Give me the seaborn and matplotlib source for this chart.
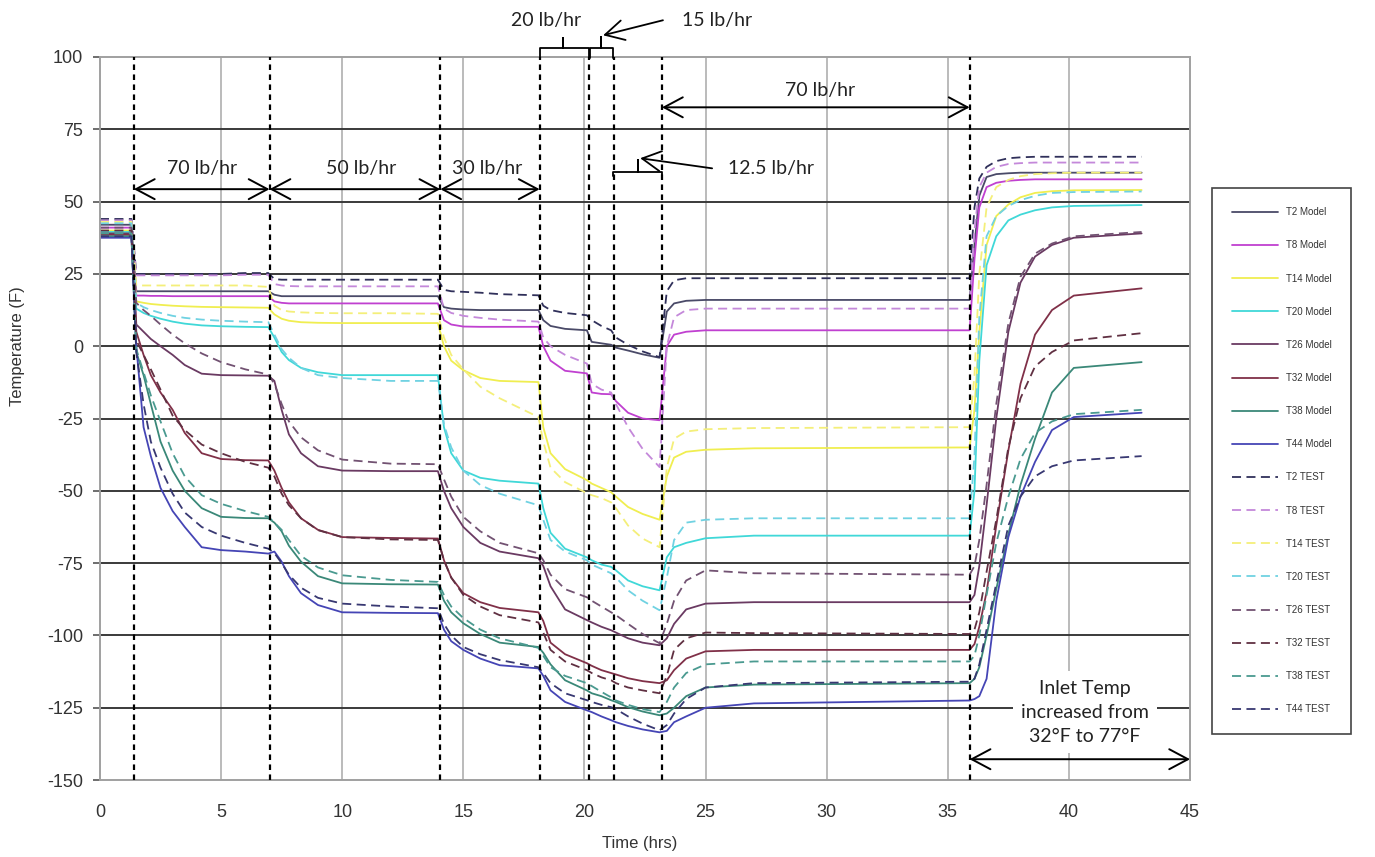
import matplotlib

matplotlib.use("Agg")
import matplotlib.pyplot as plt
import seaborn as sns

# time axis shared by every sensor trace (hours)
time_hrs = [
    0, 1.3, 1.5, 1.8, 2.1, 2.5, 3.0, 3.5, 4.2, 5.0, 6.0, 6.95,
    7.2, 7.5, 7.8, 8.3, 9.0, 10.0, 12.0, 13.95,
    14.2, 14.5, 15.0, 15.7, 16.5, 18.1,
    18.3, 18.6, 19.2, 20.1,
    20.3, 20.7, 21.1,
    21.3, 21.8, 22.4, 23.1,
    23.4, 23.7, 24.2, 25.0, 27.0, 35.9,
    36.1, 36.3, 36.6, 37.0, 37.5, 38.0, 38.6, 39.3, 40.2, 43.0,
]

# model traces (F)
t2_model = [
    42, 42, 19, 19, 19, 19, 19, 19, 19, 19, 19, 19,
    17.8, 17.3, 17.3, 17.3, 17.3, 17.3, 17.3, 17.3,
    13.5, 13, 12.7, 12.5, 12.5, 12.5,
    9, 7, 6, 5.5,
    1.5, 1, 0.5,
    -0.5, -1.5, -2.8, -4,
    12, 14.8, 15.7, 16, 16, 16,
    35, 52, 58.5, 59.5, 59.8, 60, 60, 60, 60, 60,
]
t8_model = [
    41, 41, 17.5, 17.5, 17.4, 17.4, 17.3, 17.3, 17.3, 17.3, 17.3, 17.3,
    15.5, 15, 14.8, 14.8, 14.8, 14.8, 14.8, 14.8,
    9, 7.5, 6.8, 6.7, 6.7, 6.7,
    0, -5, -8.5, -9.4,
    -16, -16.5, -16.6,
    -19, -23, -25, -25.6,
    0, 4, 5, 5.5, 5.5, 5.5,
    30, 48, 55, 56.5, 57.2, 57.5, 57.7, 57.7, 57.7, 57.7,
]
t14_model = [
    40, 40, 15.5, 15, 14.6, 14.3, 14, 13.8, 13.6, 13.5, 13.4, 13.3,
    11, 9.5, 8.8, 8.3, 8.1, 8, 8, 8,
    0, -5, -8.3, -11, -12, -12.4,
    -28, -37, -42.5, -46.3,
    -47.5, -49, -50.5,
    -52, -55.6, -58, -60,
    -45, -38.5, -36.5, -35.8, -35.3, -35,
    -22, 5, 35, 45, 49, 51.5, 53, 53.6, 53.9, 54,
]
t20_model = [
    39.5, 39.5, 13, 11.5, 10.5, 9.5, 8.5, 7.8, 7.2, 6.9, 6.7, 6.6,
    3, -2, -4.8, -7.5, -9, -10, -10, -10,
    -28, -37, -43, -45.5, -46.5, -47.5,
    -56, -64.5, -70, -73,
    -74, -75.5, -76.3,
    -77.5, -81, -83, -84.4,
    -73, -69.5, -68, -66.4, -65.5, -65.5,
    -50, -5, 28, 38, 43.5, 45.5, 47, 48, 48.5, 48.8,
]
t26_model = [
    39, 39, 7.5, 5, 2.5, 0, -3, -6.5, -9.5, -10, -10.1, -10.2,
    -12, -22, -30.5, -37, -41.5, -43, -43.2, -43.2,
    -50, -56, -62.5, -68, -71, -73.3,
    -76, -83, -91, -94.7,
    -95.5, -97, -98.2,
    -99, -101, -102.5, -103.4,
    -101, -96, -91, -89, -88.5, -88.5,
    -86, -76, -55, -25, 5, 22, 31, 35, 37.5, 39,
]
t32_model = [
    38.5, 38.5, 5, -3, -10, -16, -22, -30, -37, -39, -39.4, -39.5,
    -43, -49, -54, -59.5, -63.5, -66, -66.3, -66.5,
    -74, -80, -85.4, -88.5, -90.5, -92,
    -95, -102.5, -106.5, -109.6,
    -110.5, -112, -113,
    -113.5, -114.8, -115.8, -116.5,
    -115.5, -112, -108, -105.5, -105, -105,
    -103, -97, -85, -62, -36, -13, 4, 12.5, 17.5, 20,
]
t38_model = [
    38, 38, -2, -10, -20, -33, -43, -50, -56, -59, -59.4, -59.5,
    -61, -64, -69, -74.5, -79.5, -82, -82.3, -82.4,
    -88, -92, -95.8, -99.5, -102.5, -104,
    -106, -110, -115.5, -119,
    -120, -121, -122.4,
    -123, -124.8, -126.3, -127.6,
    -127, -125, -121, -118, -117, -116.5,
    -115, -111, -100, -84, -65, -48, -32, -16, -7.5, -5.5,
]
t44_model = [
    37.5, 37.5, 0, -28, -38, -49, -57, -62.5, -69.5, -70.5, -71, -71.7,
    -71, -74.5, -79.5, -85.4, -89.5, -92, -92.2, -92.3,
    -98, -102, -105, -108, -110.3, -111.4,
    -114, -119, -123, -125.9,
    -126.5, -128, -129.3,
    -130, -131.3, -132.5, -133.5,
    -133, -130, -128, -125, -123.5, -122.5,
    -122, -121, -115, -88, -66, -52, -40, -29, -24.5, -23,
]

# test traces (F)
t2_test = [
    44, 44, 25, 25, 25, 25, 25, 25, 25, 25, 25.3, 25.3,
    23.2, 23, 23, 23, 23, 23, 23, 23,
    19.5, 19, 18.8, 18.5, 18, 17.6,
    14, 12.5, 11.5, 10.7,
    9, 7, 5.5,
    3, 0.5, -1.8, -3.8,
    19, 22.8, 23.5, 23.5, 23.5, 23.5,
    48, 58, 62, 64, 65, 65.3, 65.5, 65.5, 65.5, 65.5,
]
t8_test = [
    43.5, 43.5, 24.5, 24.5, 24.5, 24.5, 24.5, 24.5, 24.5, 24.5, 24.7, 24.7,
    21.5, 21, 20.8, 20.7, 20.7, 20.7, 20.7, 20.7,
    13, 11.5, 10.5, 9.8, 9.2, 8.5,
    3, 0, -3, -6,
    -13, -15, -16,
    -20, -28, -35.5, -41.8,
    0, 10, 12.5, 13, 13, 13,
    40, 55, 60, 62, 63, 63.3, 63.5, 63.5, 63.5, 63.5,
]
t14_test = [
    43, 43, 21, 21, 21, 21, 21, 21, 21, 21, 21, 20.5,
    14, 12.5, 12, 11.7, 11.5, 11.4, 11.4, 11.2,
    3, -3, -8, -14, -18, -24.5,
    -33, -42, -47, -50.8,
    -51.5, -52.5, -54,
    -56, -62, -66.5, -69.5,
    -42, -32, -29.5, -28.7, -28.3, -28,
    -10, 25, 48, 55, 57.5, 58.8, 59.5, 59.8, 60, 60,
]
t20_test = [
    42.5, 42.5, 15, 13.5, 12.5, 11.5, 10.5, 9.8, 9.2, 8.8, 8.5, 8.3,
    4, -1, -4, -7.5, -10, -11, -12, -12,
    -27, -35, -43, -48, -51, -55,
    -60, -67, -71, -74,
    -75.5, -77, -78.5,
    -80, -84.4, -88, -91.3,
    -80, -67, -61, -60, -59.5, -59.5,
    -38, 10, 38, 45, 48.5, 50.5, 52, 53, 53.3, 53.5,
]
t26_test = [
    41, 41, 15, 12.5, 10.5, 7.5, 4, 1, -2.5, -5.5, -8, -9.8,
    -13, -20, -26, -31.5, -36, -39.2, -40.6, -40.8,
    -46, -52, -59, -64, -68, -71.6,
    -74, -79, -84, -86.8,
    -88, -90, -92,
    -93, -96, -99.5, -102.7,
    -96, -88, -81, -77.5, -78.5, -79,
    -76, -67, -48, -20, 8, 24, 32, 35.5, 38, 39.5,
]
t32_test = [
    40, 40, 2, -3, -8, -15, -24, -29, -34, -37, -40, -42,
    -45, -51, -55, -59.5, -63.6, -66, -66.8, -67,
    -74, -80, -86, -90, -93, -95.5,
    -99, -105, -109, -112,
    -113, -114.5, -115.5,
    -116.5, -118, -119, -120,
    -114, -105, -101, -99, -99.2, -99.5,
    -98, -92, -78, -60, -35, -18, -7, -2, 2, 4.5,
]
t38_test = [
    39, 39, -1, -9, -17, -26, -37, -45, -51.5, -54.5, -57, -59,
    -61, -63.5, -67, -72.5, -76.5, -79.2, -80.8, -81.5,
    -86, -90, -94, -98, -101, -104.3,
    -107, -111, -114, -116.5,
    -117.5, -119.5, -121.4,
    -122.5, -124, -125.5, -126.5,
    -123, -118, -113, -110, -109, -109,
    -107, -100, -86, -68, -52, -39, -30, -26, -23.5, -22,
]
t44_test = [
    38, 38, -2, -20, -33, -42, -51, -57.5, -62.5, -65.5, -68, -70,
    -71.5, -75, -79, -83.5, -87, -89, -90, -90.6,
    -96, -100, -104, -106.5, -108.5, -111,
    -113, -116.5, -120, -122.4,
    -123, -124, -124.8,
    -125.5, -128, -130.5, -132.8,
    -131, -127, -122, -118, -116.5, -116,
    -115, -110, -98, -82, -62, -52, -45, -41.5, -39.5, -38,
]

# flow-rate change times (hrs)
flow_changes = [1.4, 7.0, 14.05, 18.15, 20.2, 21.2, 23.2, 35.9]

SOLID = "-"
DASHED = (0, (5, 3))

SERIES = [
    ("T2 Model", t2_model, "#4a4a68", SOLID),
    ("T8 Model", t8_model, "#c040d0", SOLID),
    ("T14 Model", t14_model, "#f0ee50", SOLID),
    ("T20 Model", t20_model, "#40d8d8", SOLID),
    ("T26 Model", t26_model, "#6a3a62", SOLID),
    ("T32 Model", t32_model, "#803048", SOLID),
    ("T38 Model", t38_model, "#3a8878", SOLID),
    ("T44 Model", t44_model, "#4545b5", SOLID),
    ("T2 TEST", t2_test, "#30305a", DASHED),
    ("T8 TEST", t8_test, "#c488da", DASHED),
    ("T14 TEST", t14_test, "#f4ef7a", DASHED),
    ("T20 TEST", t20_test, "#70d2e2", DASHED),
    ("T26 TEST", t26_test, "#725272", DASHED),
    ("T32 TEST", t32_test, "#603042", DASHED),
    ("T38 TEST", t38_test, "#4a9a90", DASHED),
    ("T44 TEST", t44_test, "#383872", DASHED),
]

TEXT_FONT = ["Lato", "DejaVu Sans"]


def double_arrow(ax, x0, x1, y):
    ax.annotate(
        "", xy=(x1, y), xytext=(x0, y),
        arrowprops=dict(arrowstyle="<->,head_length=0.75,head_width=0.4",
                        color="black", lw=1.4, shrinkA=0, shrinkB=0,
                        mutation_scale=18),
    )


def pointer(ax, tail, head):
    ax.annotate(
        "", xy=head, xytext=tail,
        arrowprops=dict(arrowstyle="->,head_length=0.75,head_width=0.4",
                        color="black", lw=1.3, shrinkA=0, shrinkB=0,
                        mutation_scale=18),
        annotation_clip=False,
    )


def brace(ax, x0, x1, xm, y_leg, y_bar, y_tip):
    ax.plot([x0, x0, xm, xm, xm, x1, x1], [y_leg, y_bar, y_bar, y_tip, y_bar, y_bar, y_leg],
            color="black", lw=1.3, clip_on=False, zorder=4)


def main():
    sns.set_style("white")
    plt.rcParams["font.family"] = ["Liberation Sans", "DejaVu Sans"]
    plt.rcParams["axes.unicode_minus"] = False

    fig = plt.figure(figsize=(13.75, 8.57), dpi=100)
    ax = fig.add_axes([0.0727, 0.0898, 0.7928, 0.8437])

    for label, values, color, style in SERIES:
        sns.lineplot(x=time_hrs, y=values, ax=ax, color=color, linestyle=style,
                     linewidth=1.3, label=label, estimator=None, zorder=2)

    ax.set_xlim(0, 45)
    ax.set_ylim(-150, 100)
    ax.set_xticks(range(0, 46, 5))
    ax.set_yticks(range(-150, 101, 25))

    # grid: dark horizontal, light vertical
    for y in range(-125, 100, 25):
        ax.axhline(y, color="#3a3a3a", lw=1.4, zorder=0.5)
    for x in range(5, 45, 5):
        ax.axvline(x, color="#a8a8a8", lw=1.1, zorder=0.4)
    for spine in ax.spines.values():
        spine.set_color("#a0a0a0")
        spine.set_linewidth(1.4)

    for x in flow_changes:
        ax.axvline(x, color="black", lw=1.6, linestyle=(0, (2.5, 2)), zorder=3)

    ax.tick_params(axis="y", length=5, width=1.2, color="#555555", pad=7,
                   labelsize=13, labelcolor="#333333", left=True)
    ax.tick_params(axis="x", length=0, pad=17, labelsize=13, labelcolor="#333333")
    ax.set_xlabel("Time (hrs)", fontsize=12, color="#333333")
    ax.set_ylabel("Temperature (F)", fontsize=12, color="#333333")
    ax.xaxis.set_label_coords(0.495, -0.078)
    ax.yaxis.set_label_coords(-0.069, 0.60)

    # flow-rate annotations
    double_arrow(ax, 1.4, 7.0, 54.3)
    double_arrow(ax, 7.0, 14.05, 54.3)
    double_arrow(ax, 14.05, 18.15, 54.3)
    double_arrow(ax, 23.2, 35.9, 82.6)
    double_arrow(ax, 35.9, 45.0, -142.8)
    txt = dict(fontsize=14, family=TEXT_FONT, color="#222222", ha="center", va="center")
    ax.text(4.23, 61.5, "70 lb/hr", **txt)
    ax.text(10.78, 61.5, "50 lb/hr", **txt)
    ax.text(16.0, 61.5, "30 lb/hr", **txt)
    ax.text(29.73, 88.5, "70 lb/hr", **txt)
    ax.text(18.4, 112.7, "20 lb/hr", clip_on=False, **txt)
    ax.text(24.03, 112.7, "15 lb/hr", clip_on=False,
            **{**txt, "ha": "left"})
    ax.text(25.93, 61.5, "12.5 lb/hr", **{**txt, "ha": "left"})
    ax.text(40.67, -126.5, "Inlet Temp\nincreased from\n32\u00b0F to 77\u00b0F",
            linespacing=1.5, bbox=dict(facecolor="white", edgecolor="none", pad=6),
            zorder=5, **txt)

    brace(ax, 18.15, 20.2, 19.1, 99.6, 103.0, 106.5)
    brace(ax, 20.23, 21.18, 20.7, 99.6, 103.0, 106.8)
    brace(ax, 21.18, 23.2, 22.2, 58.8, 60.2, 64.3)
    pointer(ax, (23.24, 112.7), (20.77, 107.5))
    pointer(ax, (25.27, 61.5), (22.3, 65.0))

    handles, labels = ax.get_legend_handles_labels()
    ax.get_legend().remove()
    leg = fig.legend(handles, labels, loc="upper left",
                     bbox_to_anchor=(0.878, 0.7865), fontsize=7,
                     labelspacing=2.38, handlelength=4.8, handletextpad=0.8,
                     borderpad=2.0, frameon=True, fancybox=False,
                     edgecolor="#444444", framealpha=1)
    leg.get_frame().set_linewidth(1.2)
    for t in leg.get_texts():
        t.set_color("#333333")

    fig.savefig("out.png", dpi=100)
    plt.close(fig)


if __name__ == "__main__":
    main()
